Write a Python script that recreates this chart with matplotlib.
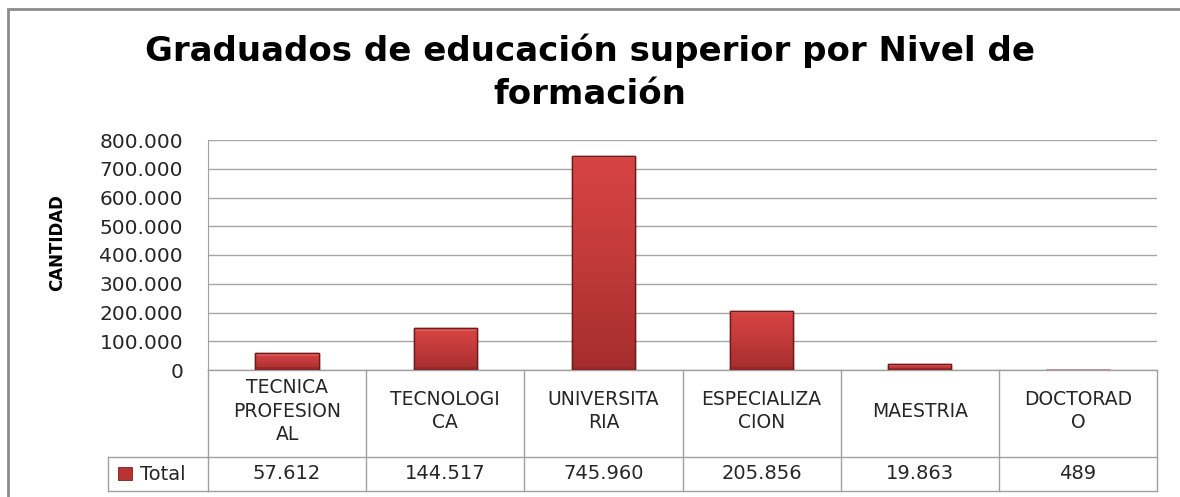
import matplotlib.pyplot as plt
import numpy as np
from matplotlib.patches import Rectangle
from matplotlib.colors import LinearSegmentedColormap

categories = ["TECNICA\nPROFESION\nAL", "TECNOLOGI\nCA", "UNIVERSITA\nRIA",
              "ESPECIALIZA\nCION", "MAESTRIA", "DOCTORAD\nO"]
totals = [57612, 144517, 745960, 205856, 19863, 489]
total_labels = ["57.612", "144.517", "745.960", "205.856", "19.863", "489"]
y_ticks = [0, 100000, 200000, 300000, 400000, 500000, 600000, 700000, 800000]
series_name = "Total"
title = "Graduados de educación superior por Nivel de\nformación"

W, H = 1180, 497
fig = plt.figure(figsize=(W / 100, H / 100), dpi=100)
plt.rcParams["font.family"] = ["DejaVu Sans"]

# outer chart frame, running off the right and bottom edges
fig.patches.append(Rectangle((8 / W, -0.1), 1.2, 1 - 9 / H + 0.1,
                             transform=fig.transFigure, fill=False,
                             edgecolor="#8c8c8c", linewidth=2))

ax = fig.add_axes([208 / W, 1 - 370 / H, (1157 - 208) / W, 230 / H])
x = np.arange(len(categories))

cmap = LinearSegmentedColormap.from_list("bar", ["#a52d2d", "#c23a3a", "#d84444"])
grad = np.linspace(0, 1, 256).reshape(-1, 1)
bars = ax.bar(x, totals, width=0.4, color="#c83c3c", edgecolor="#6e1b1b",
              linewidth=1.0, zorder=3)
for b in bars:
    x0, w, h = b.get_x(), b.get_width(), b.get_height()
    if h <= 0:
        continue
    im = ax.imshow(grad, cmap=cmap, aspect="auto", origin="lower",
                   extent=[x0, x0 + w, 0, h], zorder=3.5)
    im.set_clip_path(b)
    # lighter bevel along the top edge, darker one along the bottom
    bev = min(h * 0.3, 9000)
    ax.add_patch(Rectangle((x0, h - bev), w, bev,
                           facecolor="#e05a5a", edgecolor="none", zorder=4))
    ax.add_patch(Rectangle((x0, 0), w, bev,
                           facecolor="#962828", edgecolor="none", zorder=4))
    ax.add_patch(Rectangle((x0, 0), w, h, facecolor="none",
                           edgecolor="#6e1b1b", linewidth=1.0, zorder=4.5))
ax.set_xlim(-0.5, len(categories) - 0.5)
ax.set_ylim(0, 800000)

ax.set_yticks(y_ticks)
ax.set_yticklabels([f"{v:,}".replace(",", ".") for v in y_ticks],
                   fontsize=14.5, color="#262626")
ax.tick_params(axis="y", length=0, pad=18)
ax.set_xticks([])
ax.yaxis.grid(True, color="#a6a6a6", linewidth=1)
ax.set_axisbelow(True)
for side in ["top", "right", "bottom"]:
    ax.spines[side].set_visible(False)
ax.spines["left"].set_color("#a0a0a0")

fig.text(57 / W, 1 - 243 / H, "CANTIDAD", rotation=90, ha="center",
         va="center", fontsize=12, fontweight="bold")

# data table under the plot area
tr = ax.get_xaxis_transform()
line_kw = dict(color="#a0a0a0", linewidth=1, clip_on=False)
row1 = -87 / 230
row2 = -121 / 230
ax.plot([-0.5, len(categories) - 0.5], [0, 0], transform=tr, **line_kw)
ax.plot([-0.5, len(categories) - 0.5], [row1, row1], transform=tr, **line_kw)
ax.plot([-0.5, len(categories) - 0.5], [row2, row2], transform=tr, **line_kw)
for i in range(len(categories) + 1):
    ax.plot([i - 0.5, i - 0.5], [0, row2], transform=tr, **line_kw)

fig_line = dict(color="#a0a0a0", linewidth=1)
lx0 = 108 / W
lx1 = 208 / W
ly0 = 1 - 491 / H
ly1 = 1 - 457 / H
fig.add_artist(plt.Line2D([lx0, lx1], [ly0, ly0], **fig_line))
fig.add_artist(plt.Line2D([lx0, lx1], [ly1, ly1], **fig_line))
fig.add_artist(plt.Line2D([lx0, lx0], [ly0, ly1], **fig_line))

for i, (cat, lab) in enumerate(zip(categories, total_labels)):
    ax.text(i, row1 / 2 + 0.01, cat, transform=tr, ha="center", va="center",
            fontsize=13.5, color="#262626", linespacing=1.3)
    ax.text(i, (row1 + row2) / 2, lab, transform=tr, ha="center", va="center",
            fontsize=14, color="#262626")

fig.patches.append(Rectangle((118 / W, 1 - 480 / H), 14 / W, 13 / H,
                             transform=fig.transFigure, facecolor="#b83232",
                             edgecolor="#7a1f1f", linewidth=0.6))
fig.text(140 / W, (ly0 + ly1) / 2, series_name, ha="left", va="center",
         fontsize=14, color="#262626")

fig.text(0.5, 1 - 72 / H, title, ha="center", va="center", fontsize=24.5,
         fontweight="bold", linespacing=1.4)

fig.savefig("out.png", dpi=100)
